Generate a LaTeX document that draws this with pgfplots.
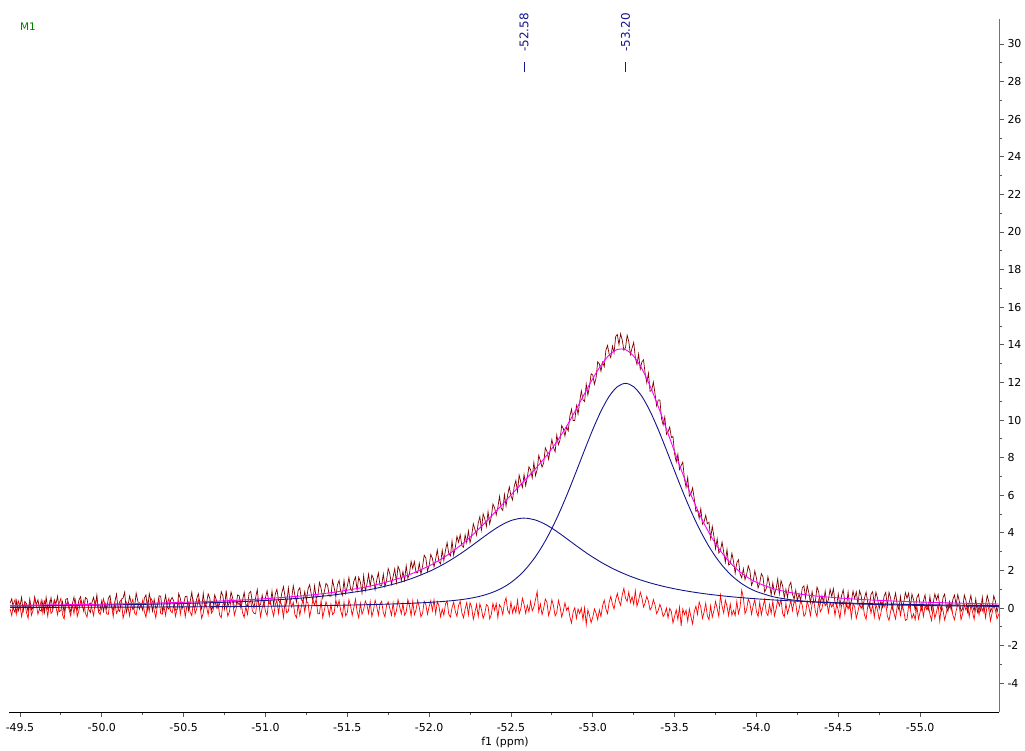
\documentclass[border=0pt]{standalone}
\usepackage{fontspec}
\setmainfont{DejaVu Sans}
\usepackage{pgfplots}
\usepackage{pgfplotstable}
\pgfplotsset{compat=1.18}

\definecolor{datared}{RGB}{128,0,0}
\definecolor{resred}{RGB}{255,0,0}
\definecolor{compblue}{RGB}{20,20,140}
\definecolor{fitmag}{RGB}{255,0,255}
\definecolor{mgreen}{RGB}{0,128,0}

% smooth curves: component 1, component 2, total fit
\pgfplotstableread{
x b1 b2 f
-49.44 0.108 0.033 0.141
-49.6 0.121 0.036 0.157
-49.8 0.139 0.040 0.179
-50.0 0.160 0.045 0.205
-50.2 0.187 0.051 0.238
-50.4 0.221 0.058 0.279
-50.6 0.265 0.067 0.332
-50.8 0.324 0.079 0.403
-51.0 0.404 0.094 0.498
-51.2 0.516 0.113 0.629
-51.4 0.679 0.138 0.817
-51.6 0.925 0.173 1.098
-51.7 1.096 0.195 1.291
-51.8 1.313 0.222 1.535
-51.9 1.590 0.256 1.846
-52.0 1.943 0.300 2.243
-52.05 2.154 0.327 2.481
-52.1 2.390 0.360 2.750
-52.15 2.652 0.400 3.052
-52.2 2.938 0.451 3.389
-52.25 3.246 0.517 3.763
-52.3 3.566 0.604 4.170
-52.35 3.887 0.721 4.608
-52.4 4.191 0.877 5.068
-52.45 4.453 1.084 5.537
-52.5 4.651 1.358 6.009
-52.55 4.761 1.715 6.476
-52.58 4.780 1.975 6.755
-52.6 4.772 2.169 6.941
-52.65 4.680 2.734 7.414
-52.7 4.499 3.421 7.920
-52.75 4.247 4.231 8.478
-52.8 3.950 5.159 9.109
-52.85 3.631 6.188 9.819
-52.9 3.309 7.286 10.595
-52.95 2.998 8.407 11.405
-53.0 2.707 9.493 12.200
-53.05 2.440 10.471 12.911
-53.1 2.199 11.257 13.456
-53.15 1.983 11.771 13.754
-53.2 1.792 11.950 13.742
-53.25 1.621 11.771 13.392
-53.3 1.471 11.257 12.728
-53.35 1.338 10.471 11.809
-53.4 1.220 9.493 10.713
-53.45 1.116 8.407 9.523
-53.5 1.023 7.286 8.309
-53.55 0.940 6.188 7.128
-53.6 0.867 5.159 6.026
-53.65 0.801 4.231 5.032
-53.7 0.742 3.421 4.163
-53.75 0.689 2.734 3.423
-53.8 0.641 2.169 2.810
-53.85 0.598 1.715 2.313
-53.9 0.558 1.358 1.916
-53.95 0.523 1.084 1.607
-54.0 0.490 0.877 1.367
-54.1 0.433 0.604 1.037
-54.2 0.386 0.451 0.837
-54.3 0.345 0.360 0.705
-54.4 0.311 0.300 0.611
-54.6 0.255 0.222 0.477
-54.8 0.213 0.173 0.386
-55.0 0.181 0.138 0.319
-55.2 0.155 0.113 0.268
-55.48 0.127 0.087 0.214
}\fitdata

% measured spectrum (d) and residual (r)
\pgfplotstableread{
x d r
-49.44 0.26 -0.05
-49.45 0.49 -0.40
-49.46 -0.04 0.22
-49.47 -0.24 0.45
-49.48 0.39 -0.31
-49.49 -0.15 0.38
-49.50 0.10 0.14
-49.51 0.57 -0.45
-49.52 -0.16 0.03
-49.53 0.35 0.30
-49.54 0.23 -0.24
-49.55 -0.21 -0.55
-49.56 0.48 0.35
-49.57 -0.10 -0.38
-49.58 0.01 -0.12
-49.59 0.60 0.50
-49.60 0.18 0.18
-49.61 0.44 -0.33
-49.62 -0.10 -0.02
-49.63 -0.17 0.41
-49.64 0.35 -0.28
-49.65 -0.23 0.36
-49.66 0.57 0.09
-49.67 -0.05 -0.44
-49.68 0.08 0.31
-49.69 0.55 -0.29
-49.70 -0.05 -0.17
-49.71 0.44 0.40
-49.72 0.23 0.05
-49.73 0.63 -0.36
-49.74 -0.18 0.26
-49.75 -0.14 0.52
-49.76 0.33 -0.36
-49.77 -0.24 -0.58
-49.78 0.46 0.12
-49.79 0.51 0.34
-49.80 0.07 -0.08
-49.81 -0.18 -0.41
-49.82 0.21 0.21
-49.83 0.58 -0.30
-49.84 0.00 0.40
-49.85 -0.11 -0.45
-49.86 0.41 -0.14
-49.87 0.60 0.38
-49.88 0.17 0.07
-49.89 -0.18 0.41
-49.90 0.56 -0.29
-49.91 0.49 -0.48
-49.92 -0.07 0.19
-49.93 -0.24 0.27
-49.94 0.30 -0.05
-49.95 0.56 -0.40
-49.96 0.12 0.33
-49.97 0.70 0.44
-49.98 -0.20 -0.21
-49.99 -0.07 -0.35
-50.00 0.39 0.02
-50.01 -0.18 0.49
-50.02 0.26 0.15
-50.03 -0.05 -0.31
-50.04 0.51 -0.34
-50.05 0.67 0.40
-50.06 0.06 0.11
-50.07 -0.13 -0.46
-50.08 0.33 0.27
-50.09 0.74 -0.28
-50.10 -0.07 -0.09
-50.11 -0.18 0.36
-50.12 0.47 0.45
-50.13 0.53 -0.54
-50.14 0.85 -0.18
-50.15 -0.23 0.30
-50.16 0.11 0.06
-50.17 0.64 -0.42
-50.18 0.25 0.23
-50.19 -0.09 0.47
-50.20 0.03 -0.26
-50.21 0.79 -0.37
-50.22 0.38 0.13
-50.23 -0.06 0.28
-50.24 0.18 0.04
-50.25 -0.12 0.41
-50.26 0.52 -0.20
-50.27 0.69 -0.49
-50.28 -0.08 0.30
-50.29 0.77 -0.18
-50.30 0.35 0.52
-50.31 -0.16 0.35
-50.32 0.46 -0.11
-50.33 -0.02 -0.52
-50.34 0.10 0.17
-50.35 0.65 0.46
-50.36 0.63 -0.30
-50.37 -0.18 -0.33
-50.38 0.23 0.08
-50.39 0.68 -0.40
-50.40 0.04 0.24
-50.41 -0.06 0.52
-50.42 0.41 -0.15
-50.43 0.56 -0.26
-50.44 0.36 0.19
-50.45 -0.11 -0.44
-50.46 -0.08 -0.07
-50.47 0.77 0.38
-50.48 0.51 -0.33
-50.49 -0.05 0.31
-50.50 0.21 0.21
-50.51 0.61 -0.47
-50.52 0.63 0.10
-50.53 -0.13 0.29
-50.54 0.34 -0.22
-50.55 0.84 -0.41
-50.56 0.12 0.36
-50.57 0.04 -0.30
-50.58 0.49 -0.04
-50.59 0.76 0.45
-50.60 0.20 0.14
-50.61 -0.05 -0.55
-50.62 0.78 -0.27
-50.63 0.04 0.36
-50.64 0.28 0.09
-50.65 0.75 -0.36
-50.66 0.52 0.28
-50.67 -0.10 -0.27
-50.68 0.08 -0.13
-50.69 0.70 0.44
-50.70 0.42 0.02
-50.71 -0.01 0.30
-50.72 0.22 -0.38
-50.73 0.87 -0.51
-50.74 0.64 0.20
-50.75 -0.03 0.37
-50.76 0.94 0.11
-50.77 0.08 -0.43
-50.78 0.30 -0.19
-50.79 0.85 0.49
-50.80 0.52 0.32
-50.81 0.04 -0.38
-50.82 0.11 -0.06
-50.83 0.70 0.33
-50.84 0.65 0.16
-50.85 -0.01 0.42
-50.86 0.42 -0.25
-50.87 0.83 -0.50
-50.88 0.19 0.07
-50.89 0.10 -0.34
-50.90 0.79 0.29
-50.91 0.88 0.39
-50.92 0.32 -0.14
-50.93 0.00 -0.28
-50.94 0.55 -0.31
-50.95 0.98 0.47
-50.96 0.12 0.24
-50.97 0.19 -0.46
-50.98 0.68 0.01
-50.99 0.12 0.31
-51.00 0.54 -0.17
-51.01 0.92 -0.40
-51.02 0.33 0.38
-51.03 0.19 0.35
-51.04 0.90 -0.09
-51.05 0.17 -0.44
-51.06 0.73 0.18
-51.07 1.00 0.41
-51.08 0.41 -0.28
-51.09 0.27 0.37
-51.10 0.80 0.12
-51.11 1.13 -0.49
-51.12 0.59 0.33
-51.13 0.23 -0.26
-51.14 1.07 -0.16
-51.15 0.38 0.44
-51.16 0.50 0.05
-51.17 1.18 0.30
-51.18 0.67 -0.35
-51.19 0.31 -0.52
-51.20 0.94 0.22
-51.21 1.08 -0.38
-51.22 0.42 0.10
-51.23 0.39 0.46
-51.24 0.87 -0.20
-51.25 0.40 0.36
-51.26 1.01 0.27
-51.27 1.24 -0.47
-51.28 0.73 -0.04
-51.29 0.39 0.42
-51.30 1.18 0.15
-51.31 0.53 0.48
-51.32 0.63 -0.30
-51.33 1.36 -0.31
-51.34 1.04 0.41
-51.35 0.53 -0.50
-51.36 0.88 -0.11
-51.37 1.31 0.33
-51.38 1.20 0.08
-51.39 0.64 -0.42
-51.40 0.63 0.19
-51.41 1.47 -0.35
-51.42 1.08 -0.23
-51.43 0.60 0.43
-51.44 1.23 0.06
-51.45 1.47 0.40
-51.46 0.89 -0.15
-51.47 0.67 -0.46
-51.48 1.47 0.31
-51.49 0.78 -0.41
-51.50 1.15 -0.26
-51.51 1.62 0.44
-51.52 1.02 0.13
-51.53 0.90 -0.39
-51.54 1.42 0.02
-51.55 1.65 0.47
-51.56 0.95 -0.19
-51.57 1.64 -0.52
-51.58 1.38 0.25
-51.59 0.80 -0.33
-51.60 1.73 -0.08
-51.61 0.92 0.38
-51.62 1.26 0.17
-51.63 1.80 -0.29
-51.64 1.15 0.34
-51.65 1.75 -0.45
-51.66 1.56 -0.12
-51.67 0.98 0.42
-51.68 1.49 0.09
-51.69 1.87 -0.38
-51.70 1.18 0.21
-51.71 1.18 0.36
-51.72 1.81 -0.24
-51.73 1.14 -0.47
-51.74 1.48 0.14
-51.75 2.10 0.33
-51.76 1.82 -0.03
-51.77 1.26 -0.39
-51.78 1.67 0.28
-51.79 2.09 -0.42
-51.80 1.37 -0.16
-51.81 2.22 0.44
-51.82 2.00 0.07
-51.83 1.44 -0.31
-51.84 1.94 0.23
-51.85 1.47 -0.38
-51.86 2.25 -0.21
-51.87 1.58 0.45
-51.88 1.83 0.12
-51.89 2.48 -0.42
-51.90 2.11 0.37
-51.91 2.47 -0.36
-51.92 1.89 -0.10
-51.93 1.87 0.41
-51.94 2.38 0.04
-51.95 1.80 -0.47
-51.96 2.22 -0.27
-51.97 2.81 0.36
-51.98 2.66 0.18
-51.99 1.97 -0.33
-52.00 2.24 0.08
-52.01 2.85 0.39
-52.02 2.64 -0.14
-52.03 2.19 0.44
-52.04 2.60 -0.30
-52.05 3.09 0.34
-52.06 2.45 0.11
-52.07 2.35 -0.46
-52.08 3.08 -0.06
-52.09 2.52 -0.38
-52.10 3.07 0.22
-52.11 3.48 0.37
-52.12 2.90 -0.33
-52.13 2.77 -0.49
-52.14 3.57 0.02
-52.15 2.81 0.31
-52.16 3.22 -0.18
-52.17 3.81 -0.44
-52.18 3.50 0.14
-52.19 3.90 0.36
-52.20 3.32 -0.25
-52.21 3.24 -0.52
-52.22 3.89 -0.05
-52.23 3.47 0.29
-52.24 4.10 -0.37
-52.25 3.48 0.28
-52.26 3.86 0.05
-52.27 4.48 -0.60
-52.28 4.18 -0.22
-52.29 3.88 0.20
-52.30 4.52 -0.45
-52.31 4.86 0.22
-52.32 4.16 -0.08
-52.33 5.01 -0.55
-52.34 4.74 -0.29
-52.35 4.34 0.18
-52.36 5.13 0.10
-52.37 4.47 -0.58
-52.38 4.85 -0.34
-52.39 5.53 0.25
-52.40 5.33 -0.12
-52.41 4.95 0.24
-52.42 5.35 -0.51
-52.43 5.94 0.18
-52.44 5.32 0.02
-52.45 5.19 -0.35
-52.46 6.04 0.26
-52.47 5.43 0.55
-52.48 6.01 -0.11
-52.49 6.44 -0.30
-52.50 5.97 0.31
-52.51 5.75 -0.26
-52.52 6.48 0.08
-52.53 6.78 -0.25
-52.54 6.19 0.42
-52.55 7.07 -0.31
-52.56 6.71 -0.05
-52.57 6.41 0.52
-52.58 7.10 0.20
-52.59 6.51 -0.28
-52.60 6.96 0.14
-52.61 7.51 -0.20
-52.62 7.36 0.36
-52.63 6.92 -0.15
-52.64 7.74 0.05
-52.65 7.04 0.45
-52.66 7.37 0.88
-52.67 8.12 -0.20
-52.68 7.83 0.21
-52.69 7.49 -0.35
-52.70 7.72 -0.02
-52.71 8.52 0.48
-52.72 8.33 0.30
-52.73 7.91 -0.40
-52.74 8.43 -0.09
-52.75 8.96 0.44
-52.76 8.53 0.12
-52.77 8.31 -0.42
-52.78 9.20 -0.24
-52.79 8.69 0.40
-52.80 8.95 0.07
-52.81 9.71 -0.48
-52.82 9.54 -0.16
-52.83 9.15 0.28
-52.84 9.64 -0.12
-52.85 9.42 0.05
-52.86 10.20 -0.46
-52.87 10.58 -0.80
-52.88 9.97 -0.21
-52.89 9.98 0.02
-52.90 10.76 -0.55
-52.91 10.31 -0.05
-52.92 10.97 -0.30
-52.93 11.55 0.00
-52.94 11.08 -0.62
-52.95 10.98 0.02
-52.96 11.91 -0.88
-52.97 11.33 -0.10
-52.98 11.81 -0.40
-52.99 12.46 -0.78
-53.00 12.39 -0.49
-53.01 11.90 -0.05
-53.02 12.23 -0.27
-53.03 13.10 -0.62
-53.04 12.99 -0.10
-53.05 12.60 -0.45
-53.06 13.08 0.12
-53.07 12.84 0.42
-53.08 13.71 -0.05
-53.09 13.97 -0.30
-53.10 13.51 0.30
-53.11 13.32 0.62
-53.12 13.93 0.22
-53.13 13.57 -0.05
-53.14 14.45 0.45
-53.15 14.55 0.78
-53.16 14.01 0.38
-53.17 14.59 0.15
-53.18 14.25 0.70
-53.19 13.71 1.05
-53.20 13.85 0.52
-53.21 14.51 0.35
-53.22 14.17 0.85
-53.23 13.48 0.30
-53.24 13.83 0.60
-53.25 14.13 0.20
-53.26 13.32 0.92
-53.27 12.96 0.10
-53.28 13.51 0.41
-53.29 12.71 0.85
-53.30 13.09 0.55
-53.31 13.20 0.05
-53.32 12.48 0.28
-53.33 11.98 0.62
-53.34 12.49 0.36
-53.35 11.53 -0.10
-53.36 11.57 0.05
-53.37 12.02 0.45
-53.38 11.41 0.18
-53.39 10.75 -0.30
-53.40 11.06 -0.12
-53.41 11.07 0.20
-53.42 10.08 -0.06
-53.43 9.73 -0.45
-53.44 10.16 -0.30
-53.45 9.24 0.00
-53.46 9.38 -0.52
-53.47 9.63 -0.02
-53.48 9.07 -0.18
-53.49 9.12 -0.80
-53.50 8.19 -0.44
-53.51 7.77 -0.10
-53.52 8.18 -0.61
-53.53 7.37 0.05
-53.54 7.58 -0.95
-53.55 7.76 -0.05
-53.56 6.88 -0.35
-53.57 6.42 -0.12
-53.58 6.94 -0.70
-53.59 5.95 -0.05
-53.60 6.08 -0.47
-53.61 6.39 -0.85
-53.62 5.82 -0.20
-53.63 5.14 0.10
-53.64 5.22 -0.34
-53.65 4.77 0.32
-53.66 5.29 0.05
-53.67 4.46 -0.55
-53.68 4.58 -0.22
-53.69 4.94 0.25
-53.70 4.48 -0.41
-53.71 4.56 -0.62
-53.72 3.70 0.12
-53.73 4.34 -0.48
-53.74 3.82 -0.15
-53.75 3.15 0.35
-53.76 3.68 -0.03
-53.77 2.93 -0.45
-53.78 3.06 0.68
-53.79 3.51 0.10
-53.80 2.97 -0.27
-53.81 2.44 0.42
-53.82 3.12 0.10
-53.83 2.29 -0.40
-53.84 2.35 0.21
-53.85 2.91 -0.38
-53.86 2.47 -0.12
-53.87 1.85 -0.40
-53.88 2.41 0.35
-53.89 2.57 -0.30
-53.90 1.81 0.04
-53.91 1.61 0.95
-53.92 2.09 0.55
-53.93 1.51 -0.30
-53.94 1.78 -0.08
-53.95 2.25 0.48
-53.96 1.98 0.26
-53.97 1.21 -0.33
-53.98 1.43 0.13
-53.99 1.97 0.45
-54.00 1.59 -0.19
-54.01 1.07 -0.45
-54.02 1.33 0.30
-54.03 1.83 -0.36
-54.04 1.66 0.08
-54.05 0.86 0.45
-54.06 1.04 -0.24
-54.07 1.67 -0.40
-54.08 1.25 0.19
-54.09 0.70 -0.28
-54.10 1.34 0.36
-54.11 0.74 -0.42
-54.12 1.01 -0.06
-54.13 1.55 0.42
-54.14 0.76 0.11
-54.15 1.46 0.46
-54.16 1.18 -0.29
-54.17 0.55 -0.47
-54.18 1.00 0.24
-54.19 0.56 -0.30
-54.20 1.18 0.03
-54.21 1.37 0.40
-54.22 0.74 -0.14
-54.23 0.47 0.35
-54.24 0.95 0.27
-54.25 0.39 -0.40
-54.26 0.75 -0.09
-54.27 0.40 0.40
-54.28 1.08 0.15
-54.29 1.18 -0.44
-54.30 0.54 -0.31
-54.31 1.20 0.36
-54.32 0.82 0.06
-54.33 0.28 -0.40
-54.34 0.87 0.22
-54.35 0.33 0.41
-54.36 0.36 -0.18
-54.37 1.11 -0.45
-54.38 0.87 0.40
-54.39 0.23 -0.20
-54.40 0.65 -0.04
-54.41 0.30 0.46
-54.42 0.91 0.12
-54.43 0.21 0.32
-54.44 0.45 -0.25
-54.45 1.00 0.30
-54.46 0.61 0.05
-54.47 1.03 0.25
-54.48 0.29 -0.40
-54.49 0.15 0.20
-54.50 0.75 -0.12
-54.51 0.09 -0.55
-54.52 0.65 0.14
-54.53 0.97 0.35
-54.54 0.34 -0.33
-54.55 0.09 0.25
-54.56 0.85 -0.06
-54.57 0.03 0.28
-54.58 0.38 -0.52
-54.59 0.90 0.22
-54.60 0.51 0.08
-54.61 0.86 -0.55
-54.62 0.23 -0.19
-54.63 0.92 0.22
-54.64 0.64 -0.02
-54.65 0.01 0.25
-54.66 0.52 -0.37
-54.67 0.85 -0.60
-54.68 0.29 0.10
-54.69 0.02 0.30
-54.70 0.73 -0.28
-54.71 0.87 0.20
-54.72 0.23 -0.49
-54.73 0.85 0.18
-54.74 0.51 -0.11
-54.75 -0.04 -0.62
-54.76 0.36 -0.30
-54.77 0.03 0.28
-54.78 0.63 0.06
-54.79 0.83 0.25
-54.80 0.11 -0.43
-54.81 0.84 -0.66
-54.82 0.52 -0.17
-54.83 -0.06 0.18
-54.84 0.39 -0.26
-54.85 0.80 -0.58
-54.86 0.18 0.08
-54.87 -0.08 0.20
-54.88 0.62 -0.39
-54.89 -0.04 0.16
-54.90 0.28 -0.14
-54.91 0.82 -0.66
-54.92 0.52 -0.60
-54.93 0.80 0.15
-54.94 0.01 -0.05
-54.95 0.74 -0.55
-54.96 0.44 -0.31
-54.97 -0.13 -0.62
-54.98 0.55 0.11
-54.99 0.73 -0.58
-55.00 0.18 -0.22
-55.01 -0.11 0.22
-55.02 0.37 -0.45
-55.03 0.70 0.12
-55.04 0.06 -0.08
-55.05 -0.11 0.20
-55.06 0.62 -0.34
-55.07 -0.10 -0.66
-55.08 0.27 0.04
-55.09 0.75 -0.55
-55.10 0.43 -0.21
-55.11 0.72 0.18
-55.12 0.13 -0.70
-55.13 -0.15 0.10
-55.14 0.56 -0.13
-55.15 0.74 -0.64
-55.16 0.06 -0.27
-55.17 -0.18 0.22
-55.18 0.34 0.02
-55.19 -0.11 0.25
-55.20 0.46 -0.38
-55.21 0.69 -0.62
-55.22 0.17 -0.16
-55.23 0.71 0.20
-55.24 0.34 0.05
-55.25 -0.18 -0.62
-55.26 -0.03 -0.29
-55.27 0.69 0.18
-55.28 0.40 -0.11
-55.29 -0.21 0.12
-55.30 0.28 -0.46
-55.31 0.67 0.16
-55.32 0.12 -0.20
-55.33 -0.16 -0.60
-55.34 0.48 0.03
-55.35 -0.22 0.14
-55.36 0.05 -0.36
-55.37 -0.15 0.20
-55.38 0.57 -0.15
-55.39 -0.21 0.10
-55.40 0.15 -0.52
-55.41 0.67 0.22
-55.42 0.33 -0.07
-55.43 -0.19 -0.68
-55.44 0.02 -0.25
-55.45 0.65 0.15
-55.46 0.37 -0.10
-55.47 -0.23 -0.58
-55.48 0.17 -0.33
}\spec

\begin{document}
\begin{tikzpicture}
\useasboundingbox (0,0) rectangle (1025bp,751bp);
\begin{axis}[
    at={(9bp,39bp)}, anchor=south west,
    scale only axis, width=990bp, height=693bp,
    x dir=reverse,
    xmin=-55.482, xmax=-49.433,
    ymin=-5.53, ymax=31.33,
    axis x line*=bottom, axis y line*=right,
    x axis line style={black},
    y axis line style={black!55},
    clip=false,
    no markers,
    xtick={-55,-54.5,-54,-53.5,-53,-52.5,-52,-51.5,-51,-50.5,-50,-49.5},
    ytick={-4,-2,0,2,4,6,8,10,12,14,16,18,20,22,24,26,28,30},
    minor x tick num=1, minor y tick num=1,
    tick align=outside,
    major tick length=5bp, minor tick length=3bp,
    tick style={black!65, line width=0.8pt},
    xticklabel style={font=\fontsize{11}{13}\selectfont, yshift=-3bp,
        /pgf/number format/.cd, fixed, fixed zerofill, precision=1,
        assume math mode=true},
    yticklabel style={font=\fontsize{11}{13}\selectfont,
        /pgf/number format/assume math mode=true},
]
\addplot[datared, line width=0.7pt] table[x=x, y=d] {\spec};
\addplot[resred, line width=0.7pt] table[x=x, y=r] {\spec};
\addplot[compblue, line width=0.9pt, smooth] table[x=x, y=b1] {\fitdata};
\addplot[compblue, line width=0.9pt, smooth] table[x=x, y=b2] {\fitdata};
\addplot[fitmag, line width=0.9pt, smooth] table[x=x, y=f] {\fitdata};

\draw[compblue, line width=0.8pt] (axis cs:-52.58,28.51) -- (axis cs:-52.58,29.04);
\node[rotate=90, anchor=west, inner sep=0pt, text=compblue,
      font=\fontsize{12}{14}\selectfont] at (axis cs:-52.58,29.57) {-52.58};
\draw[compblue, line width=0.8pt] (axis cs:-53.20,28.51) -- (axis cs:-53.20,29.04);
\node[rotate=90, anchor=west, inner sep=0pt, text=compblue,
      font=\fontsize{12}{14}\selectfont] at (axis cs:-53.20,29.57) {-53.20};
\end{axis}
\node[font=\fontsize{11}{13}\selectfont] at (505bp,9bp) {f1 (ppm)};
\node[anchor=west, inner sep=0pt, text=mgreen, font=\fontsize{10.5}{12}\selectfont] at (20bp,724bp) {M1};
\end{tikzpicture}
\end{document}
